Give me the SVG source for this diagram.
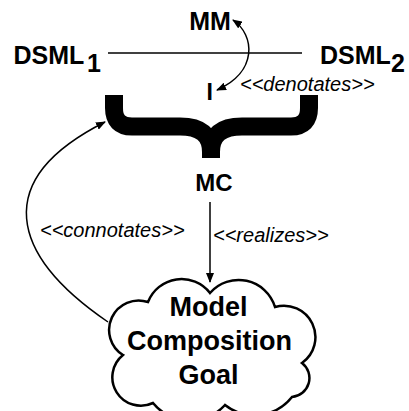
<svg xmlns="http://www.w3.org/2000/svg" width="409" height="411" viewBox="0 0 409 411">
<style>
.b{font-family:"Liberation Sans",Arial,sans-serif;font-weight:bold;fill:#000}
.i{font-family:"Liberation Sans",Arial,sans-serif;font-style:italic;font-size:20px;fill:#000}
.ln{fill:none;stroke:#000;stroke-width:1.5}
</style>
<defs>
<marker id="ah" markerWidth="10" markerHeight="8" refX="9" refY="4" orient="auto-start-reverse" markerUnits="userSpaceOnUse"><path d="M0,0 L10,4 L0,8 z" fill="#000"/></marker>
</defs>
<rect width="409" height="411" fill="#fff"/>
<g id="connectors">
<line class="ln" x1="108" y1="53" x2="302" y2="53"/>
<path class="ln" d="M233,20 C255,35 258,72 217,90" marker-start="url(#ah)" marker-end="url(#ah)"/>
<path class="ln" d="M210,202 V282" marker-end="url(#ah)"/>
<path class="ln" d="M108,322 C10,255 -10,180 105,122" marker-end="url(#ah)"/>
<text class="i" x="240" y="91">&lt;&lt;denotates&gt;&gt;</text>
<text class="i" x="213" y="242">&lt;&lt;realizes&gt;&gt;</text>
<text class="i" x="40" y="237">&lt;&lt;connotates&gt;&gt;</text>
</g>
<g id="MM"><text class="b" x="210" y="30" font-size="25" text-anchor="middle">MM</text></g>
<g id="DSML1"><text class="b" x="13.5" y="64" font-size="25">DSML<tspan x="87" y="71.5">1</tspan></text></g>
<g id="DSML2"><text class="b" x="320" y="64" font-size="25">DSML<tspan x="391" y="71.5">2</tspan></text></g>
<g id="I"><text class="b" x="206.5" y="100" font-size="23">I</text></g>
<g id="brace">
<path d="M114,95 V108 Q114,126.5 132,126.5 H180 Q211,126.5 211,152 V158" fill="none" stroke="#000" stroke-width="18"/>
<path d="M309,95 V108 Q309,126.5 291,126.5 H242 Q211,126.5 211,152 V158" fill="none" stroke="#000" stroke-width="18"/>
</g>
<g id="MC"><text class="b" x="214" y="191" font-size="24" text-anchor="middle">MC</text></g>
<g id="goal">
<path d="M148,302 A36,36 0 0 1 210,293 A38,38 0 0 1 275,307 A31.5,31.5 0 0 1 302,363 A19,19 0 0 1 292,397 A48,48 0 0 1 225,405 A48,48 0 0 1 153,403 A28.5,28.5 0 0 1 123,355 A29.5,29.5 0 0 1 148,302 Z" fill="#fff" stroke="#000" stroke-width="2.5"/>
<text class="b" font-size="27" text-anchor="middle"><tspan x="208.5" y="316">Model</tspan><tspan x="209.5" y="350">Composition</tspan><tspan x="208.5" y="384">Goal</tspan></text>
</g>
</svg>
